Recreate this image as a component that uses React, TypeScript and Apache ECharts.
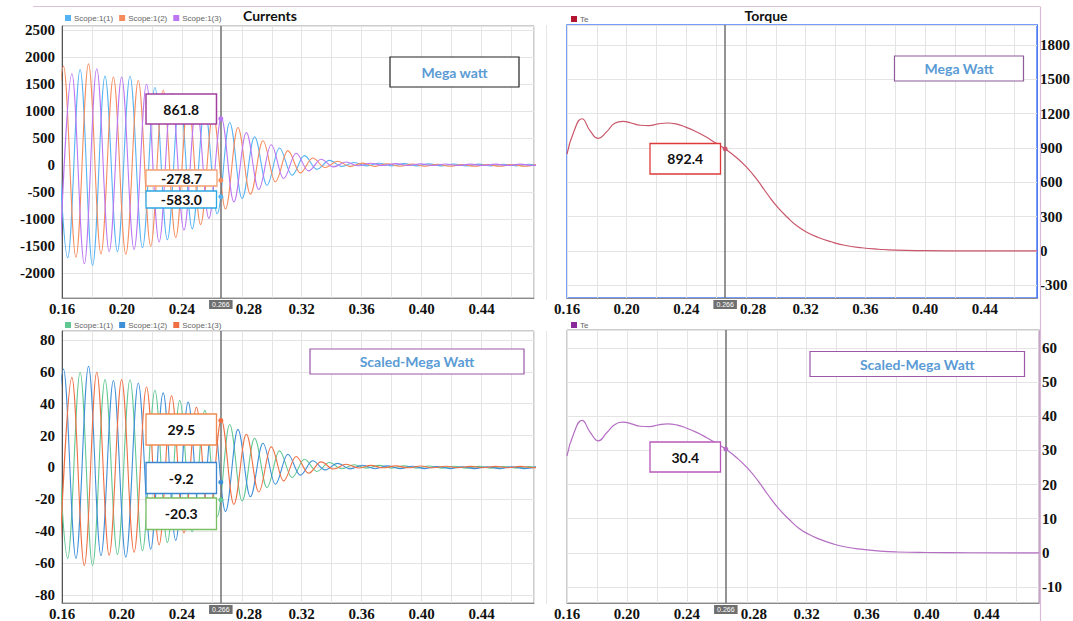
import React, { useEffect, useRef } from 'react';
import * as echarts from 'echarts';

// ---------------- data ----------------
const X_MIN = 0.16;
const X_MAX = 0.475;
const CURSOR_T = 0.266;
const CURSOR_LABEL = '0.266';

const CURRENT_NAMES = ['Scope:1(1)', 'Scope:1(2)', 'Scope:1(3)'];
const TORQUE_NAME = 'Te';

// extremum times of each phase (s)
const PHASE1_T = [0.1555, 0.1638, 0.1721, 0.1804, 0.1887, 0.1970, 0.2054, 0.2137, 0.2220, 0.2303, 0.2386, 0.2469, 0.2553, 0.2636, 0.2719, 0.2802, 0.2885, 0.2968, 0.3051, 0.3135, 0.3218, 0.3301, 0.3384, 0.3467, 0.3550, 0.3633, 0.3717, 0.3800, 0.3883, 0.3966, 0.4049, 0.4132, 0.4216, 0.4299, 0.4382, 0.4465, 0.4548, 0.4631, 0.4714, 0.4798];
const PHASE2_T = [0.1527, 0.1610, 0.1693, 0.1777, 0.1860, 0.1943, 0.2026, 0.2109, 0.2192, 0.2275, 0.2359, 0.2442, 0.2525, 0.2608, 0.2691, 0.2774, 0.2857, 0.2941, 0.3024, 0.3107, 0.3190, 0.3273, 0.3356, 0.3440, 0.3523, 0.3606, 0.3689, 0.3772, 0.3855, 0.3938, 0.4022, 0.4105, 0.4188, 0.4271, 0.4354, 0.4437, 0.4520, 0.4604, 0.4687, 0.4770];
const PHASE3_T = [0.1582, 0.1666, 0.1749, 0.1832, 0.1915, 0.1998, 0.2081, 0.2164, 0.2248, 0.2331, 0.2414, 0.2497, 0.2580, 0.2663, 0.2747, 0.2830, 0.2913, 0.2996, 0.3079, 0.3162, 0.3245, 0.3329, 0.3412, 0.3495, 0.3578, 0.3661, 0.3744, 0.3827, 0.3911, 0.3994, 0.4077, 0.4160, 0.4243, 0.4326, 0.4410, 0.4493, 0.4576, 0.4659, 0.4742, 0.4825];

// Currents (Mega watt) – peak / trough values
const TL_PHASE1 = [1700, -1715, 1775, -1857, 1652, -1600, 1650, -1530, 1440, -1380, 1270, -1180, 1050, -900, 792, -615, 528, -370, 319, -185, 178, -74, 90, -22, 50, -12, 38, -12, 30, -12, 25, -12, 22, -12, 20, -12, 18, -12, 18, -12];
const TL_PHASE2 = [-1700, 1836, -1703, 1879, -1642, 1633, -1650, 1570, -1500, 1390, -1340, 1200, -1100, 950, -810, 700, -535, 454, -307, 270, -141, 135, -43, 75, -25, 40, -22, 28, -20, 22, -20, 18, -20, 15, -20, 15, -20, 15, -20, 15];
const TL_PHASE3 = [-1950, 1695, -1826, 1787, -1600, 1633, -1560, 1500, -1420, 1330, -1200, 1130, -985, 880, -680, 608, -450, 380, -246, 221, -105, 110, -30, 60, -10, 38, -6, 30, -5, 25, -5, 22, -5, 20, -5, 20, -5, 20, -5, 20];

// Currents (Scaled-Mega Watt)
const BL_PHASE1 = [58.0, -57.0, 59.7, -61.5, 55.1, -54.6, 55.0, -52.2, 48.4, -47.1, 42.0, -40.3, 35.8, -30.7, 27.0, -21.0, 18.3, -12.6, 10.4, -6.3, 5.2, -2.5, 3.1, -0.8, 1.7, -0.4, 1.3, -0.4, 1.0, -0.4, 0.9, -0.4, 0.8, -0.4, 0.7, -0.4, 0.6, -0.4, 0.6, -0.4];
const BL_PHASE2 = [-58.0, 61.7, -57.0, 63.4, -55.3, 54.5, -56.3, 53.0, -51.2, 46.8, -45.7, 41.0, -37.5, 32.4, -27.6, 23.9, -18.3, 15.2, -10.5, 8.3, -4.8, 4.2, -1.5, 2.6, -0.9, 1.4, -0.8, 1.0, -0.7, 0.8, -0.7, 0.6, -0.7, 0.5, -0.7, 0.5, -0.7, 0.5, -0.7, 0.5];
const BL_PHASE3 = [-64.0, 56.5, -61.5, 59.7, -55.0, 55.1, -53.2, 50.5, -48.5, 45.0, -41.0, 37.8, -33.6, 30.0, -23.2, 20.8, -15.4, 12.9, -8.4, 6.9, -3.6, 3.5, -1.0, 2.0, -0.3, 1.3, -0.2, 1.0, -0.2, 0.9, -0.2, 0.8, -0.2, 0.7, -0.2, 0.7, -0.2, 0.7, -0.2, 0.7];

// Torque
const TORQUE_T = [0.160, 0.1645, 0.170, 0.1755, 0.181, 0.1865, 0.192, 0.1975, 0.203, 0.209, 0.215, 0.221, 0.227, 0.233, 0.2395, 0.2465, 0.253, 0.260, 0.266, 0.2735, 0.2805, 0.2875, 0.294, 0.301, 0.308, 0.3145, 0.321, 0.328, 0.337, 0.346, 0.3575, 0.369, 0.380, 0.400, 0.430, 0.475];
const TORQUE_TOP = [846, 1040, 1155, 1050, 983, 1040, 1115, 1132, 1118, 1098, 1095, 1110, 1118, 1110, 1082, 1042, 998, 940, 892.4, 817, 730, 620, 502, 385, 290, 215, 162, 120, 80, 50, 28, 15, 7, 3, 1, 0];
const TORQUE_BOTTOM = [28.4, 35.0, 38.8, 35.3, 32.8, 35.2, 37.6, 38.3, 37.8, 37.1, 37.0, 37.5, 37.8, 37.5, 36.6, 35.3, 33.8, 32.0, 30.4, 27.8, 24.8, 21.1, 17.1, 13.1, 9.9, 7.3, 5.5, 4.1, 2.7, 1.7, 1.0, 0.5, 0.25, 0.1, 0.03, 0];

// cursor read-outs
const CURSOR_TL = [-583.0, -278.7, 861.8];
const CURSOR_BL = [-20.3, -9.2, 29.5];
const CURSOR_TQ_TOP = 892.4;
const CURSOR_TQ_BOTTOM = 30.4;

// ---------------- styling ----------------
const TL_COLORS = ['#56b3f3', '#f68c5c', '#bb76f3'];
const BL_COLORS = ['#62c893', '#3f8fd8', '#ef6f43'];
const TQ_TOP_COLOR = '#c9566a';
const TQ_TOP_LEGEND = '#b3142f';
const TQ_BOTTOM_COLOR = '#b46ec3';
const TQ_BOTTOM_LEGEND = '#8a2a9a';
const GRID_LINE = '#e4e4e4';
const SERIF = 'Liberation Serif';
const SANS = 'Lato';

const zip = (ts: number[], vs: number[]) => ts.map((t, i) => [t, vs[i]]);

const isStep = (v: number, step: number) => Math.abs(v / step - Math.round(v / step)) < 1e-6;

const xLabel = (v: number) => {
  if (!isStep(v, 0.04) || v > X_MAX - 0.01) return '';
  const s = v.toFixed(2);
  if (s === '0.28') return '{s|' + s + '}';
  return s;
};

function xAxis(gridIndex: number) {
  return {
    type: 'value',
    gridIndex,
    min: X_MIN,
    max: X_MAX,
    interval: 0.02,
    axisLine: { show: true, onZero: false, lineStyle: { color: '#8a8a8a' } },
    axisTick: { show: false },
    splitLine: { show: true, lineStyle: { color: GRID_LINE, width: 1 } },
    axisLabel: {
      formatter: xLabel,
      fontFamily: SERIF,
      fontWeight: 'bold',
      fontSize: 15,
      color: '#111',
      margin: 3,
      rich: { s: { padding: [0, 0, 0, 14], fontFamily: SERIF, fontWeight: 'bold', fontSize: 15, color: '#111' } },
    },
  };
}

function yAxis(gridIndex: number, min: number, max: number, splitNumber: number, step: number, position: string, lineColor: string) {
  return {
    type: 'value',
    gridIndex,
    min,
    max,
    splitNumber,
    position,
    axisLine: { show: true, onZero: false, lineStyle: { color: lineColor } },
    axisTick: { show: false },
    splitLine: { show: true, lineStyle: { color: GRID_LINE, width: 1 } },
    axisLabel: {
      formatter: (v: number) => (isStep(v, step) ? String(Math.round(v)) : ''),
      fontFamily: SERIF,
      fontWeight: 'bold',
      fontSize: 15,
      color: '#111',
      margin: position === 'left' ? 7 : 3,
    },
  };
}

const cursorLine = {
  silent: true,
  symbol: ['none', 'none'],
  animation: false,
  precision: 4,
  data: [{ xAxis: CURSOR_T }],
  lineStyle: { color: '#707070', width: 1.5, type: 'solid' },
  emphasis: { disabled: true },
  label: {
    show: true,
    position: 'start',
    formatter: CURSOR_LABEL,
    backgroundColor: '#6f6f6f',
    color: '#ffffff',
    fontSize: 7,
    fontFamily: 'Liberation Sans',
    padding: [1, 3, 1, 3],
    distance: 2,
  },
};

function currentSeries(name: string, times: number[], vals: number[], color: string, gi: number, cursorVal: number, withCursor: boolean) {
  return {
    type: 'line',
    name,
    xAxisIndex: gi,
    yAxisIndex: gi,
    data: zip(times, vals),
    smooth: 0.363,
    smoothMonotone: 'x',
    showSymbol: false,
    symbol: 'none',
    lineStyle: { color, width: 1.1 },
    itemStyle: { color },
    silent: true,
    markPoint: {
      silent: true,
      symbol: 'circle',
      symbolSize: 5,
      precision: 4,
      label: { show: false },
      itemStyle: { color },
      data: [{ coord: [CURSOR_T, cursorVal] }],
    },
    ...(withCursor ? { markLine: cursorLine } : {}),
  };
}

function torqueSeries(vals: number[], color: string, gi: number, cursorVal: number) {
  return {
    type: 'line',
    name: TORQUE_NAME,
    xAxisIndex: gi,
    yAxisIndex: gi,
    data: zip(TORQUE_T, vals),
    smooth: 0.5,
    showSymbol: false,
    symbol: 'none',
    lineStyle: { color, width: 1.2 },
    itemStyle: { color },
    silent: true,
    markPoint: {
      silent: true,
      symbol: 'circle',
      symbolSize: 5,
      precision: 4,
      label: { show: false },
      itemStyle: { color },
      data: [{ coord: [CURSOR_T, cursorVal] }],
    },
    markLine: cursorLine,
  };
}

function legend(left: number, top: number, names: string[], colors: string[]) {
  return {
    left,
    top,
    orient: 'horizontal',
    icon: 'rect',
    itemWidth: 6,
    itemHeight: 6,
    itemGap: 6,
    selectedMode: false,
    textStyle: { fontSize: 8, color: '#666', fontFamily: 'Liberation Sans', padding: [0, 0, 0, -2] },
    data: names.map((n, i) => ({ name: n, icon: 'rect', itemStyle: { color: colors[i] } })),
  };
}

function box(x: number, y: number, w: number, h: number, stroke: string, text: string, textColor: string, lw = 1.3) {
  return [
    {
      type: 'rect',
      z: 100,
      silent: true,
      shape: { x, y, width: w, height: h },
      style: { fill: '#ffffff', stroke, lineWidth: lw },
    },
    {
      type: 'text',
      z: 101,
      silent: true,
      x: x + w / 2,
      y: y + h / 2,
      style: {
        text,
        fill: textColor,
        font: `bold 14px ${SANS}`,
        textAlign: 'center',
        textVerticalAlign: 'middle',
        align: 'center',
        verticalAlign: 'middle',
      },
    },
  ];
}

const fmt1 = (v: number) => v.toFixed(1);

const option: any = {
  animation: false,
  backgroundColor: '#ffffff',
  title: [
    { text: 'Currents', left: 265, top: 3, textAlign: 'center', textStyle: { fontSize: 14, fontWeight: 'bold', fontFamily: SANS, color: '#111' } },
    { text: 'Torque', left: 761, top: 3, textAlign: 'center', textStyle: { fontSize: 14, fontWeight: 'bold', fontFamily: SANS, color: '#111' } },
  ],
  legend: [
    legend(60, 9, CURRENT_NAMES, TL_COLORS),
    legend(566, 10, [TORQUE_NAME], [TQ_TOP_LEGEND]),
    legend(60, 316, CURRENT_NAMES, BL_COLORS),
    legend(566, 316, [TORQUE_NAME], [TQ_BOTTOM_LEGEND]),
  ],
  grid: [
    { left: 62, top: 26, width: 472, height: 272, show: true, borderColor: '#9a9a9a', borderWidth: 1 },
    { left: 567, top: 25, width: 472, height: 273, show: true, borderColor: '#4d7cf6', borderWidth: 1.5 },
    { left: 62, top: 331, width: 472, height: 275, show: true, borderColor: '#9a9a9a', borderWidth: 1 },
    { left: 567, top: 330, width: 472, height: 274, show: true, borderColor: '#9a9a9a', borderWidth: 1 },
  ],
  xAxis: [xAxis(0), xAxis(1), xAxis(2), xAxis(3)],
  yAxis: [
    yAxis(0, -2460, 2580, 10, 500, 'left', '#555'),
    yAxis(1, -411, 1974, 8, 300, 'right', '#4d7cf6'),
    yAxis(2, -85, 85.6, 8, 20, 'left', '#555'),
    yAxis(3, -14.7, 65.3, 8, 10, 'right', '#c9a0cc'),
  ],
  series: [
    currentSeries(CURRENT_NAMES[0], PHASE1_T, TL_PHASE1, TL_COLORS[0], 0, CURSOR_TL[0], true),
    currentSeries(CURRENT_NAMES[1], PHASE2_T, TL_PHASE2, TL_COLORS[1], 0, CURSOR_TL[1], false),
    currentSeries(CURRENT_NAMES[2], PHASE3_T, TL_PHASE3, TL_COLORS[2], 0, CURSOR_TL[2], false),
    torqueSeries(TORQUE_TOP, TQ_TOP_COLOR, 1, CURSOR_TQ_TOP),
    currentSeries(CURRENT_NAMES[0], PHASE1_T, BL_PHASE1, BL_COLORS[0], 2, CURSOR_BL[0], true),
    currentSeries(CURRENT_NAMES[1], PHASE2_T, BL_PHASE2, BL_COLORS[1], 2, CURSOR_BL[1], false),
    currentSeries(CURRENT_NAMES[2], PHASE3_T, BL_PHASE3, BL_COLORS[2], 2, CURSOR_BL[2], false),
    torqueSeries(TORQUE_BOTTOM, TQ_BOTTOM_COLOR, 3, CURSOR_TQ_BOTTOM),
  ],
  graphic: [
    // screenshot frame lines
    { type: 'line', z: 90, silent: true, shape: { x1: 33, y1: 6.5, x2: 1040, y2: 6.5 }, style: { stroke: '#dcc2d9', lineWidth: 1.2 } },
    { type: 'line', z: 90, silent: true, shape: { x1: 1040.5, y1: 6.5, x2: 1040.5, y2: 621 }, style: { stroke: '#d9b9d6', lineWidth: 1.2 } },
    { type: 'line', z: 90, silent: true, shape: { x1: 546.5, y1: 25, x2: 546.5, y2: 300 }, style: { stroke: '#e6e6e6', lineWidth: 1 } },
    { type: 'line', z: 90, silent: true, shape: { x1: 546.5, y1: 331, x2: 546.5, y2: 604 }, style: { stroke: '#e6e6e6', lineWidth: 1 } },
    // annotation boxes
    ...box(390, 57, 129, 30, '#222222', 'Mega watt', '#5b9bd5', 1.2),
    ...box(146, 94, 70.5, 30, '#a2409f', fmt1(CURSOR_TL[2]), '#111', 1.5),
    ...box(146, 170, 71, 16, '#f2a072', fmt1(CURSOR_TL[1]), '#111', 1.3),
    ...box(146, 191, 70.5, 17, '#2aa9e2', fmt1(CURSOR_TL[0]), '#111', 1.3),
    ...box(894.5, 56, 129, 25, '#8e5a98', 'Mega Watt', '#5b9bd5', 1.2),
    ...box(650, 143.5, 70.5, 30.5, '#dd3b3b', fmt1(CURSOR_TQ_TOP), '#111', 1.3),
    ...box(310, 349, 214, 25, '#9b59a8', 'Scaled-Mega Watt', '#5b9bd5', 1.2),
    ...box(146, 414, 70.5, 31, '#f08a50', fmt1(CURSOR_BL[2]), '#111', 1.3),
    ...box(146, 462.5, 70.5, 31, '#3a86d0', fmt1(CURSOR_BL[1]), '#111', 1.3),
    ...box(146, 498, 70.5, 31.5, '#7cbf62', fmt1(CURSOR_BL[0]), '#111', 1.3),
    ...box(810, 351.5, 214.5, 25, '#9b59a8', 'Scaled-Mega Watt', '#5b9bd5', 1.2),
    ...box(650, 442, 70.5, 30, '#b858b8', fmt1(CURSOR_TQ_BOTTOM), '#111', 1.3),
  ],
};

export default function App() {
  const ref = useRef<HTMLDivElement>(null);
  useEffect(() => {
    if (!ref.current) return;
    const chart = echarts.init(ref.current, null, { renderer: 'svg' });
    chart.setOption(option);
    return () => chart.dispose();
  }, []);
  return (
    <div
      ref={ref}
      style={{ position: 'fixed', left: 0, top: 0, width: 1073, height: 621, background: '#ffffff' }}
    />
  );
}
